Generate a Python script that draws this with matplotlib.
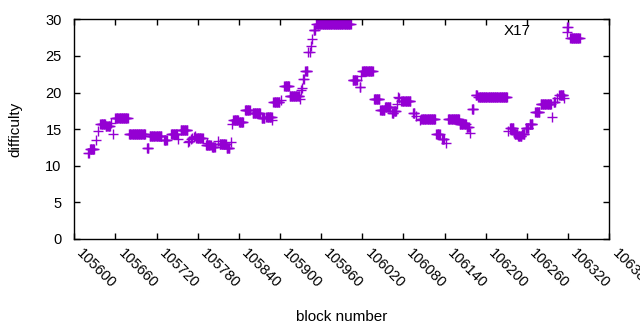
import numpy as np
import matplotlib
matplotlib.use("Agg")
import matplotlib.pyplot as plt

plt.rcParams['font.family'] = ['Liberation Sans', 'DejaVu Sans']

# runs of constant difficulty: first block, last block, difficulty
run_start = [105620, 105623, 105632, 105634, 105638, 105646, 105654, 105656,
             105660, 105680, 105706, 105710, 105731, 105741, 105751, 105755,
             105766, 105768, 105770, 105772, 105774, 105776, 105778, 105792,
             105793, 105801, 105810, 105812, 105822, 105828, 105830, 105832,
             105840, 105849, 105860, 105873, 105880, 105889, 105890, 105902,
             105906, 105914, 105929, 105930, 105932, 105934, 105937, 105941,
             105944, 105945, 105947, 105949, 105953, 106006, 106016, 106018,
             106020, 106037, 106046, 106053, 106063, 106066, 106071, 106072,
             106074, 106077, 106094, 106098, 106104, 106106, 106128, 106136,
             106142, 106145, 106162, 106172, 106177, 106180, 106185, 106189,
             106233, 106235, 106241, 106242, 106247, 106253, 106258, 106264,
             106272, 106280, 106296, 106299, 106304, 106307, 106314, 106318,
             106319, 106323]
run_end = [105621, 105629, 105632, 105634, 105645, 105652, 105654, 105656,
           105678, 105703, 105708, 105727, 105735, 105750, 105751, 105765,
           105766, 105768, 105770, 105772, 105774, 105776, 105787, 105799,
           105793, 105805, 105810, 105821, 105826, 105828, 105830, 105839,
           105846, 105856, 105871, 105877, 105888, 105889, 105899, 105902,
           105913, 105928, 105929, 105930, 105932, 105935, 105940, 105941,
           105944, 105945, 105947, 105951, 106003, 106012, 106017, 106018,
           106035, 106045, 106052, 106061, 106065, 106069, 106071, 106072,
           106074, 106090, 106096, 106098, 106104, 106126, 106133, 106139,
           106142, 106161, 106171, 106175, 106177, 106182, 106187, 106231,
           106233, 106240, 106241, 106246, 106252, 106256, 106262, 106268,
           106278, 106295, 106296, 106301, 106304, 106313, 106314, 106318,
           106320, 106337]
run_diff = [11.8, 12.3, 13.5, 14.7, 15.7, 15.4, 15.9, 14.4,
            16.5, 14.4, 12.4, 14.1, 13.5, 14.3, 13.6, 14.9,
            13.3, 13.4, 13.6, 13.8, 13.9, 14.0, 13.8, 12.8,
            13.1, 12.6, 13.4, 13.0, 12.4, 13.3, 15.7, 16.3,
            16.0, 17.6, 17.2, 16.5, 16.6, 16.2, 18.7, 19.0,
            20.9, 19.5, 19.1, 20.4, 20.6, 21.8, 23.0, 25.5,
            25.5, 26.3, 27.3, 28.6, 29.3, 21.7, 20.7, 22.3,
            23.0, 19.1, 17.6, 18.0, 17.2, 17.5, 18.4, 19.4,
            19.2, 18.9, 17.2, 16.8, 16.3, 16.4, 14.3, 13.6,
            13.1, 16.4, 15.7, 15.3, 14.5, 17.7, 19.6, 19.4,
            14.7, 15.2, 14.5, 14.4, 14.1, 14.3, 15.1, 15.7,
            17.4, 18.5, 16.7, 18.7, 19.2, 19.7, 19.3, 28.2,
            29.0, 27.4]

x_ticks = list(range(105600, 106381, 60))
y_ticks = [0, 5, 10, 15, 20, 25, 30]

blocks = []
diffs = []
for s, e, d in zip(run_start, run_end, run_diff):
    for b in range(s, e + 1):
        blocks.append(b)
        diffs.append(d)

fig = plt.figure(figsize=(6.4, 3.3), dpi=100)
ax = fig.add_axes([0.116, 0.2758, 0.836, 0.6657])

ax.plot(blocks, diffs, linestyle='none', marker='+', color='#9400d3',
        markersize=6.5, markeredgewidth=1.0)

ax.set_xlim(105600, 106380)
ax.set_ylim(0, 30)
ax.set_xticks(x_ticks)
ax.set_xticklabels([str(t) for t in x_ticks], rotation=-45, ha='left', va='top')
ax.set_yticks(y_ticks)

ax.tick_params(direction='in', top=True, right=True, length=4, width=1,
               labelsize=10.5)
ax.tick_params(axis='y', pad=9)
ax.tick_params(axis='x', pad=5)
for sp in ax.spines.values():
    sp.set_linewidth(1)

ax.set_xlabel("block number", fontsize=11)
ax.set_ylabel("difficulty", fontsize=11)
ax.xaxis.set_label_coords(0.5, -0.325)
ax.yaxis.set_label_coords(-0.097, 0.5)

ax.text(531 / 640, 1 - 31 / 330, "X17", transform=fig.transFigure,
        ha='right', va='center', fontsize=11)

fig.savefig("out.png", dpi=100)
